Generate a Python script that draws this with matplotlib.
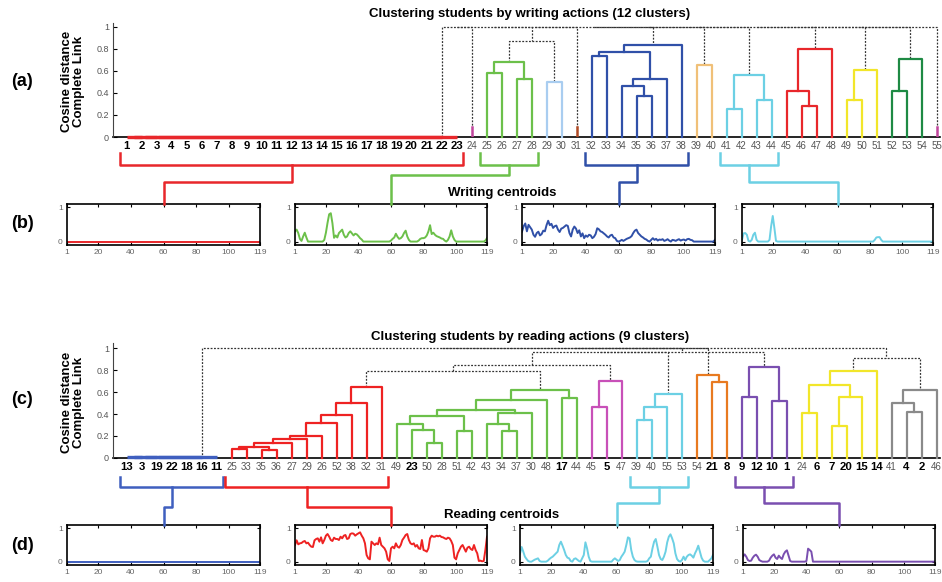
import matplotlib
matplotlib.use('Agg')
import matplotlib.pyplot as plt
from matplotlib.lines import Line2D
import numpy as np

plt.rcParams['font.family'] = ['Liberation Sans', 'DejaVu Sans']

W, H = 942, 582

# ---------------- colours ----------------
DASH = 'dash'
RED = '#e8272b'
MAGENTA = '#c0449c'
GREEN = '#6cc04a'
LBLUE = '#a9cdf0'
BROWN = '#b04a24'
BLUE = '#3050a8'
ORANGE = '#f0c078'
CYAN = '#6cd0e4'
YELLOW = '#f2e62a'
DGREEN = '#1e8a44'
R_BLUE = '#3f5fbf'
R_RED = '#ee2222'
R_MAG = '#c850b8'
R_ORANGE = '#e87a20'
PURPLE = '#7a4fb0'
GRAY = '#8a8a8a'

# ---------------- (a) writing dendrogram ----------------
w_leaves = [str(i) for i in range(1, 56)]
w_zero = [str(i) for i in range(1, 24)]      # identical students, distance 0
w_stubs = {'24': (0.09, MAGENTA), '31': (0.09, BROWN), '55': (0.09, MAGENTA)}
w_merges = [
    ('g1', '25', '26', 0.58, GREEN), ('g2', '27', '28', 0.53, GREEN),
    ('g', 'g1', 'g2', 0.68, GREEN),
    ('lb', '29', '30', 0.50, LBLUE),
    ('gl', 'g', 'lb', 0.87, DASH),
    ('b1', '32', '33', 0.74, BLUE), ('b2', '35', '36', 0.37, BLUE),
    ('b3', '34', 'b2', 0.46, BLUE), ('b4', 'b3', '37', 0.53, BLUE),
    ('b5', 'b1', 'b4', 0.77, BLUE), ('b', 'b5', '38', 0.84, BLUE),
    ('o', '39', '40', 0.65, ORANGE),
    ('c1', '41', '42', 0.25, CYAN), ('c2', '43', '44', 0.34, CYAN),
    ('c', 'c1', 'c2', 0.56, CYAN),
    ('r1', '46', '47', 0.28, RED), ('r2', '45', 'r1', 0.42, RED),
    ('r', 'r2', '48', 0.80, RED),
    ('y1', '49', '50', 0.34, YELLOW), ('y', 'y1', '51', 0.61, YELLOW),
    ('k1', '52', '53', 0.42, DGREEN), ('k', 'k1', '54', 0.71, DGREEN),
]
w_top = ['z', '24', 'gl', '31', 'b', 'o', 'c', 'r', 'y', 'k', '55']
w_top_height = 1.0

# ---------------- (c) reading dendrogram ----------------
r_leaves = ['13', '3', '19', '22', '18', '16', '11', '25', '33', '35', '36', '27', '29', '26',
            '52', '38', '32', '31', '49', '23', '50', '28', '51', '42', '43', '34', '37', '30',
            '48', '17', '44', '45', '5', '47', '39', '40', '55', '53', '54', '21', '8', '9',
            '12', '10', '1', '24', '6', '7', '20', '15', '14', '41', '4', '2', '46']
r_zero = ['13', '3', '19', '22', '18', '16', '11']
r_merges = [
    ('r1', '25', '33', 0.077, R_RED), ('r2', '35', '36', 0.07, R_RED),
    ('r3', 'r1', 'r2', 0.10, R_RED), ('r4', 'r3', '27', 0.137, R_RED),
    ('r5', 'r4', '29', 0.17, R_RED), ('r6', 'r5', '26', 0.20, R_RED),
    ('r7', 'r6', '52', 0.32, R_RED), ('r8', 'r7', '38', 0.39, R_RED),
    ('r9', 'r8', '32', 0.50, R_RED), ('r', 'r9', '31', 0.65, R_RED),
    ('g1', '50', '28', 0.137, GREEN), ('g2', '23', 'g1', 0.25, GREEN),
    ('g3', '49', 'g2', 0.31, GREEN), ('g4', '51', '42', 0.24, GREEN),
    ('g5', 'g3', 'g4', 0.38, GREEN), ('g6', '34', '37', 0.24, GREEN),
    ('g7', '43', 'g6', 0.31, GREEN), ('g8', 'g7', '30', 0.41, GREEN),
    ('g9', 'g5', 'g8', 0.44, GREEN), ('g10', 'g9', '48', 0.53, GREEN),
    ('g11', '17', '44', 0.55, GREEN), ('g', 'g10', 'g11', 0.62, GREEN),
    ('m1', '45', '5', 0.46, R_MAG), ('m', 'm1', '47', 0.70, R_MAG),
    ('c1', '39', '40', 0.345, CYAN), ('c2', 'c1', '55', 0.46, CYAN),
    ('c', 'c2', '53', 0.58, CYAN),
    ('o1', '21', '8', 0.69, R_ORANGE), ('o', '54', 'o1', 0.76, R_ORANGE),
    ('p1', '9', '12', 0.56, PURPLE), ('p2', '10', '1', 0.52, PURPLE),
    ('p', 'p1', 'p2', 0.83, PURPLE),
    ('y1', '7', '20', 0.29, YELLOW), ('y2', 'y1', '15', 0.56, YELLOW),
    ('y3', '24', '6', 0.41, YELLOW), ('y4', 'y3', 'y2', 0.67, YELLOW),
    ('y', 'y4', '14', 0.79, YELLOW),
    ('k1', '4', '2', 0.42, GRAY), ('k2', '41', 'k1', 0.50, GRAY),
    ('k', 'k2', '46', 0.62, GRAY),
    ('rg', 'r', 'g', 0.79, DASH), ('rgm', 'rg', 'm', 0.85, DASH),
    ('rgmc', 'rgm', 'c', 0.97, DASH), ('rgmcp', 'rgmc', 'p', 0.97, DASH),
    ('yk', 'y', 'k', 0.91, DASH),
]
r_top = ['z', 'rgmcp', 'o', 'yk']
r_top_height = 1.0

# ---------------- centroids (119 action features) ----------------
features = np.arange(1, 120)
w_cent_red = [0.0] * 119
w_cent_green = [0.30, 0.35, 0.25, 0.08, 0.02, 0.15, 0.26, 0.12, 0.00, 0.00,
                0, 0, 0, 0, 0, 0, 0, 0, 0.05, 0.26,
                0.55, 0.80, 0.83, 0.54, 0.11, 0.18, 0.12, 0.25, 0.30, 0.35,
                0.20, 0.12, 0.15, 0.25, 0.30, 0.24, 0.18, 0.23, 0.21, 0.16,
                0.10, 0.06, 0, 0, 0, 0, 0, 0, 0, 0,
                0, 0, 0, 0, 0, 0, 0, 0, 0, 0.03,
                0.08, 0.12, 0.23, 0.14, 0.08, 0.10, 0.15, 0.25, 0.32, 0.15,
                0.05, 0, 0, 0, 0, 0, 0.03, 0.08, 0.10, 0.10,
                0.12, 0.18, 0.30, 0.48, 0.22, 0.26, 0.20, 0.16, 0.14, 0.12,
                0.09, 0.08, 0.03, 0, 0.05, 0.15, 0.33, 0.15, 0.05, 0,
                0, 0, 0, 0, 0, 0, 0, 0, 0, 0,
                0, 0, 0, 0, 0, 0, 0, 0.03, 0.10]
w_cent_blue = [0.29, 0.45, 0.53, 0.30, 0.49, 0.42, 0.35, 0.20, 0.14, 0.25,
               0.29, 0.18, 0.22, 0.32, 0.30, 0.48, 0.61, 0.48, 0.52, 0.40,
               0.45, 0.47, 0.35, 0.28, 0.38, 0.40, 0.44, 0.48, 0.46, 0.25,
               0.15, 0.35, 0.44, 0.38, 0.25, 0.33, 0.15, 0.24, 0.10, 0.18,
               0.14, 0.20, 0.18, 0.10, 0.14, 0.22, 0.39, 0.36, 0.30, 0.28,
               0.24, 0.20, 0.15, 0.12, 0.18, 0.20, 0.12, 0.10, 0.02, 0.00,
               0.02, 0.05, 0.02, 0.05, 0.08, 0.10, 0.12, 0.16, 0.25, 0.32,
               0.35, 0.25, 0.20, 0.15, 0.12, 0.08, 0.06, 0.02, 0.00, 0.05,
               0.10, 0.05, 0.08, 0.03, 0.06, 0.05, 0.07, 0.02, 0.04, 0.07,
               0.03, 0.00, 0.05, 0.04, 0.02, 0.05, 0.07, 0.03, 0.05, 0.06,
               0.03, 0.07, 0.08, 0.05, 0.04, 0, 0, 0, 0, 0,
               0, 0, 0, 0, 0, 0, 0, 0, 0.05]
w_cent_cyan = [0.05, 0.24, 0.25, 0.20, 0.02, 0.00, 0.05, 0.20, 0.26, 0.05,
               0, 0, 0, 0, 0, 0, 0, 0.05, 0.45, 0.75,
               0.40, 0.02, 0, 0, 0, 0, 0, 0, 0, 0,
               0, 0, 0, 0, 0, 0, 0, 0, 0, 0,
               0, 0, 0, 0, 0, 0, 0, 0, 0, 0,
               0, 0, 0, 0, 0, 0, 0, 0, 0, 0,
               0, 0, 0, 0, 0, 0, 0, 0, 0, 0,
               0, 0, 0, 0, 0, 0, 0, 0, 0, 0,
               0, 0, 0.05, 0.12, 0.13, 0.13, 0.05, 0, 0, 0,
               0, 0, 0, 0, 0, 0, 0, 0, 0, 0,
               0, 0, 0, 0, 0, 0, 0, 0, 0, 0,
               0, 0, 0, 0, 0, 0, 0, 0, 0]
r_cent_blue = [0.0] * 119
r_cent_red = [0.50, 0.64, 0.52, 0.55, 0.56, 0.60, 0.62, 0.55, 0.57, 0.50,
              0.45, 0.44, 0.64, 0.68, 0.70, 0.60, 0.73, 0.55, 0.65, 0.78,
              0.83, 0.75, 0.65, 0.62, 0.72, 0.68, 0.68, 0.65, 0.75, 0.70,
              0.78, 0.80, 0.68, 0.70, 0.83, 0.85, 0.84, 0.78, 0.82, 0.85,
              0.88, 0.78, 0.70, 0.55, 0.20, 0.10, 0.07, 0.60, 0.55, 0.50,
              0.55, 0.52, 0.72, 0.50, 0.45, 0.40, 0.30, 0.07, 0.02, 0.40,
              0.45, 0.40, 0.55, 0.45, 0.42, 0.50, 0.65, 0.72, 0.80, 0.83,
              0.65, 0.55, 0.52, 0.55, 0.45, 0.50, 0.40, 0.38, 0.65, 0.35,
              0.33, 0.30, 0.40, 0.70, 0.78, 0.75, 0.75, 0.78, 0.76, 0.78,
              0.74, 0.73, 0.70, 0.68, 0.72, 0.70, 0.62, 0.50, 0.12, 0.07,
              0.25, 0.35, 0.45, 0.50, 0.40, 0.30, 0.42, 0.45, 0.38, 0.35,
              0.50, 0.35, 0.25, 0.02, 0.03, 0.01, 0.02, 0.35, 0.75]
r_cent_cyan = [0.24, 0.44, 0.30, 0.15, 0.08, 0.02, 0, 0, 0.03, 0.06,
               0.08, 0.10, 0.02, 0, 0, 0, 0, 0.03, 0.08, 0.12,
               0.15, 0.20, 0.25, 0.30, 0.50, 0.60, 0.48, 0.35, 0.20, 0.12,
               0.10, 0.02, 0, 0.08, 0.10, 0.06, 0.02, 0, 0.10, 0.20,
               0.58, 0.40, 0.15, 0.02, 0, 0, 0, 0, 0, 0,
               0, 0, 0, 0, 0, 0, 0, 0.06, 0.10, 0.06,
               0.02, 0.05, 0.15, 0.22, 0.30, 0.50, 0.73, 0.70, 0.35, 0.15,
               0.05, 0.01, 0, 0, 0, 0, 0, 0, 0.02, 0.10,
               0.15, 0.40, 0.60, 0.68, 0.45, 0.20, 0.08, 0.05, 0.15, 0.30,
               0.58, 0.75, 0.82, 0.70, 0.55, 0.25, 0.08, 0.02, 0, 0.05,
               0.15, 0.05, 0.15, 0.20, 0.22, 0.18, 0.12, 0.25, 0.35, 0.48,
               0.30, 0.12, 0.03, 0, 0, 0, 0.05, 0.10, 0.20]
r_cent_purple = [0.15, 0.22, 0.15, 0.05, 0.02, 0.03, 0.12, 0.18, 0.21, 0.15,
                 0.05, 0.02, 0, 0, 0, 0, 0.03, 0.12, 0.18, 0.22,
                 0.12, 0.08, 0.18, 0.12, 0.08, 0.22, 0.30, 0.34, 0.18, 0.02,
                 0, 0, 0, 0, 0, 0, 0, 0, 0, 0.02,
                 0.39, 0.35, 0.30, 0, 0, 0, 0, 0, 0, 0,
                 0, 0, 0, 0, 0, 0, 0, 0, 0, 0,
                 0, 0, 0, 0, 0, 0, 0, 0, 0, 0,
                 0, 0, 0, 0, 0, 0, 0, 0, 0, 0,
                 0, 0, 0, 0, 0, 0, 0, 0, 0, 0,
                 0, 0, 0, 0, 0, 0, 0, 0, 0, 0,
                 0, 0, 0, 0, 0, 0, 0, 0, 0, 0,
                 0, 0, 0, 0, 0, 0, 0, 0, 0]

# brackets: first leaf, last leaf, colour, centroid panel, elbow level (px)
w_brackets = [('1', '23', RED, 0, 182), ('25', '28', GREEN, 1, 175),
              ('32', '38', BLUE, 2, 182), ('41', '44', CYAN, 3, 182)]
r_brackets = [('13', '11', R_BLUE, 0, 507), ('25', '31', R_RED, 1, 507),
              ('39', '53', CYAN, 2, 503), ('9', '1', PURPLE, 3, 503)]


def fx(px):
    return px / W


def fy(py):
    return 1 - py / H


def draw_tree(ax, leaves, zero, stubs, merges, top, top_h, zero_color):
    nodes = {lab: (i, 0.0) for i, lab in enumerate(leaves)}
    # zero-distance group
    prev = zero[0]
    for k, lab in enumerate(zero[1:]):
        x0, _ = nodes[prev]
        x1, _ = nodes[lab]
        ax.plot([x0, x1], [0.004, 0.004], color=zero_color, lw=2.4,
                solid_capstyle='butt', zorder=4, clip_on=False)
        prev = 'z%d' % k
        nodes[prev] = ((x0 + x1) / 2, 0.0)
    nodes['z'] = nodes[prev]
    for lab, (h, col) in stubs.items():
        x, _ = nodes[lab]
        ax.plot([x, x], [0, h], color=col, lw=1.8, zorder=4)
        nodes[lab] = (x, h)

    def link(name, a, b, h, col):
        xa, ha = nodes[a]
        xb, hb = nodes[b]
        if col == DASH:
            ax.plot([xa, xa, xb, xb], [ha, h, h, hb], color='#333333', lw=0.9,
                    ls=(0, (1.5, 1.2)), zorder=2, clip_on=False)
        else:
            ax.plot([xa, xa, xb, xb], [ha, h, h, hb], color=col, lw=1.6, zorder=3,
                    clip_on=False)
        nodes[name] = ((xa + xb) / 2, h)

    for name, a, b, h, col in merges:
        link(name, a, b, h, col)
    prev = top[0]
    for k, nxt in enumerate(top[1:]):
        link('top%d' % k, prev, nxt, top_h, DASH)
        prev = 'top%d' % k


def style_tree(ax, leaves, ymax):
    ax.set_xlim(-0.9, 54.23)
    ax.set_ylim(0, ymax)
    for s in ['top', 'right']:
        ax.spines[s].set_visible(False)
    ax.spines['left'].set_color('#444444')
    ax.spines['bottom'].set_linewidth(1.2)
    ax.spines['bottom'].set_zorder(1)
    ax.set_yticks([0, 0.2, 0.4, 0.6, 0.8, 1])
    ax.set_yticklabels(['0', '0.2', '0.4', '0.6', '0.8', '1'], fontsize=6.5, color='#555555')
    ax.tick_params(axis='y', direction='in', length=3, pad=3)
    ax.set_xticks(range(len(leaves)))
    ax.set_xticklabels(leaves)
    ax.tick_params(axis='x', length=0, pad=3)
    for lab, t in zip(leaves, ax.get_xticklabels()):
        if int(lab) <= 23:
            t.set_fontweight('bold')
            t.set_fontsize(8.2)
            t.set_color('black')
        else:
            t.set_fontsize(7)
            t.set_color('#555555')


def centroid_axes(left, right, top, bottom, values, color):
    ax = fig.add_axes([fx(left), fy(bottom), fx(right) - fx(left), (bottom - top) / H])
    ax.plot(features, values, color=color, lw=1.4)
    ax.set_xlim(1, 119)
    ax.set_ylim(-0.1, 1.1)
    ax.set_xticks([1, 20, 40, 60, 80, 100, 119])
    ax.set_yticks([0, 1])
    ax.tick_params(direction='in', top=True, right=True, length=2.5, width=0.8,
                   labelsize=6, labelcolor='#666666', pad=3)
    for s in ax.spines.values():
        s.set_linewidth(1.2)
    return ax


def brackets(ax_tree, leaves, cen_axes, specs, y_top, y_bar, y_end):
    for first, last, col, k, y_mid in specs:
        i0 = leaves.index(first) - 0.42
        i1 = leaves.index(last) + 0.42
        x0 = ax_tree.transData.transform((i0, 0))[0]
        x1 = ax_tree.transData.transform((i1, 0))[0]
        xc = (x0 + x1) / 2
        xt = cen_axes[k].transData.transform((60, 0))[0]
        fig.add_artist(Line2D([fx(x0), fx(x0), fx(x1), fx(x1)],
                              [fy(y_top), fy(y_bar), fy(y_bar), fy(y_top)],
                              transform=fig.transFigure, color=col, lw=1.8))
        fig.add_artist(Line2D([fx(xc), fx(xc), fx(xt), fx(xt)],
                              [fy(y_bar), fy(y_mid), fy(y_mid), fy(y_end)],
                              transform=fig.transFigure, color=col, lw=1.8))


fig = plt.figure(figsize=(W / 100, H / 100), dpi=100)

# ---- (a)
ax_a = fig.add_axes([fx(113), fy(137), fx(940) - fx(113), (137 - 23) / H])
draw_tree(ax_a, w_leaves, w_zero, w_stubs, w_merges, w_top, w_top_height, RED)
style_tree(ax_a, w_leaves, 1.036)

# ---- (b)
b_axes = []
for (l, r), vals, col in zip([(67, 260), (295, 487), (522, 715), (742, 933)],
                             [w_cent_red, w_cent_green, w_cent_blue, w_cent_cyan],
                             [RED, GREEN, BLUE, CYAN]):
    b_axes.append(centroid_axes(l, r, 204, 245, vals, col))
brackets(ax_a, w_leaves, b_axes, w_brackets, 153, 165, 204)

# ---- (c)
ax_c = fig.add_axes([fx(113), fy(457.7), fx(940) - fx(113), (457.7 - 343) / H])
draw_tree(ax_c, r_leaves, r_zero, {}, r_merges, r_top, r_top_height, R_BLUE)
style_tree(ax_c, r_leaves, 1.05)

# ---- (d)
d_axes = []
for (l, r), vals, col in zip([(67, 260), (295, 487), (520, 713), (743, 935)],
                             [r_cent_blue, r_cent_red, r_cent_cyan, r_cent_purple],
                             [R_BLUE, R_RED, CYAN, PURPLE]):
    d_axes.append(centroid_axes(l, r, 525, 565, vals, col))
brackets(ax_c, r_leaves, d_axes, r_brackets, 477, 487, 525)

# ---- texts
fig.text(fx(530), fy(14), 'Clustering students by writing actions (12 clusters)',
         ha='center', va='center', fontsize=9.5, fontweight='bold')
fig.text(fx(530), fy(337), 'Clustering students by reading actions (9 clusters)',
         ha='center', va='center', fontsize=9.5, fontweight='bold')
fig.text(fx(502), fy(193), 'Writing centroids', ha='center', va='center',
         fontsize=9.5, fontweight='bold')
fig.text(fx(502), fy(515), 'Reading centroids', ha='center', va='center',
         fontsize=9.5, fontweight='bold')
for y in [81, 402]:
    fig.text(fx(73), fy(y), 'Cosine distance\nComplete Link', rotation=90,
             ha='center', va='center', fontsize=9.5, fontweight='bold',
             multialignment='center', linespacing=1.05)
for lab, y in [('(a)', 82), ('(b)', 223), ('(c)', 400), ('(d)', 545)]:
    fig.text(fx(22), fy(y), lab, ha='center', va='center', fontsize=13, fontweight='bold')

fig.savefig('out.png', dpi=100)
